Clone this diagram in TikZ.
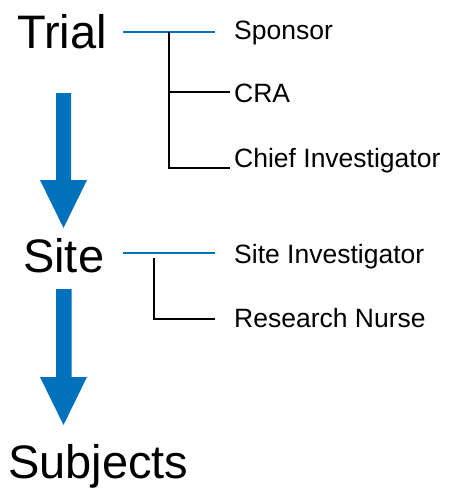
\documentclass[tikz,border=0pt]{standalone}
\usepackage{fontspec}
\setmainfont{Liberation Sans}
\definecolor{ablue}{RGB}{0,114,187}
\begin{document}
\begin{tikzpicture}[x=1pt,y=-1pt,
  big/.style={inner sep=0pt,anchor=base west,font=\fontsize{47}{50}\selectfont},
  small/.style={inner sep=0pt,anchor=base west,font=\fontsize{26.5}{28}\selectfont},
  blueline/.style={draw=ablue,line width=1.8pt},
  blackline/.style={draw=black,line width=1.8pt},
  bigarrow/.style={fill=ablue,draw=none}]
\useasboundingbox (0,0) rectangle (455,490);
% main labels
\node[big] (trial) at (17,48) {Trial};
\node[big] (site) at (23,272) {Site};
\node[big] (subj) at (8,478) {Subjects};
% role labels
\node[small] (sponsor) at (234,39.5) {Sponsor};
\node[small] (cra) at (234,102) {CRA};
\node[small] (chief) at (234,167) {Chief Investigator};
\node[small] (siteinv) at (234,263) {Site Investigator};
\node[small] (nurse) at (234,327) {Research Nurse};
% trial connectors
\coordinate (t0) at (123,32);
\coordinate (t1) at (215,32);
\coordinate (tv) at (169,32);
\coordinate (tc) at (230,92);
\coordinate (tch) at (230,168);
\draw[blueline] (t0) -- (t1);
\draw[blackline] (tv) -- (tv |- tch) -- (tch);
\draw[blackline] (tv |- tc) -- (tc);
% site connectors
\coordinate (s0) at (123,253);
\coordinate (s1) at (215,253);
\coordinate (sv) at (154,258);
\coordinate (sn) at (215,319);
\draw[blueline] (s0) -- (s1);
\draw[blackline] (sv) -- (sv |- sn) -- (sn);
% arrows
\fill[bigarrow] (56,93) -- (71,93) -- (71,180) -- (87,180) -- (63.5,228) -- (40,180) -- (56,180) -- cycle;
\fill[bigarrow] (56,289) -- (71.5,289) -- (71.5,377) -- (87,377) -- (63.5,425) -- (40,377) -- (56,377) -- cycle;
\end{tikzpicture}
\end{document}
